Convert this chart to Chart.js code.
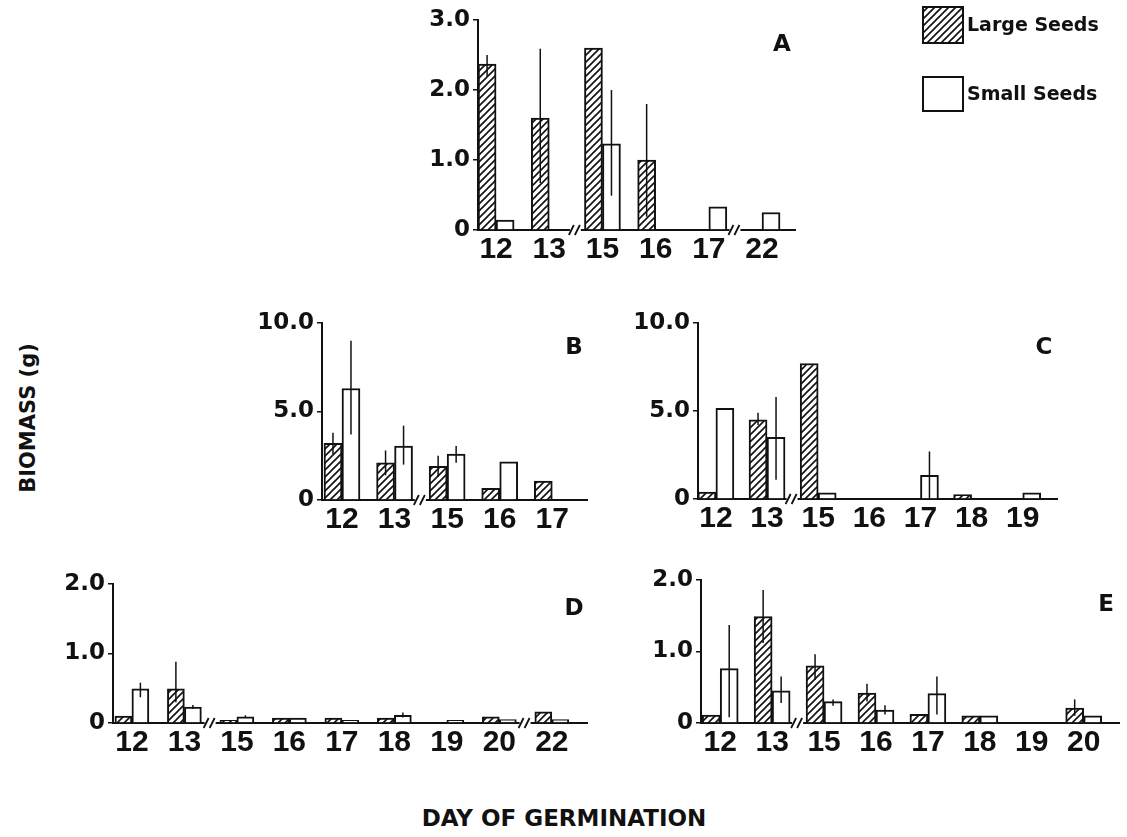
<!DOCTYPE html>
<html>
<head>
<meta charset="utf-8">
<script src="https://cdn.jsdelivr.net/npm/chart.js@4.4.0/dist/chart.umd.min.js"></script>
<style>
  body { margin: 0; background: #fff; }
  #page { position: relative; width: 1127px; height: 837px; overflow: hidden; background: #fff; }
  canvas { position: absolute; }
  .axtitle { position: absolute; font: bold 21px 'DejaVu Sans', sans-serif; color: #111; white-space: nowrap; }
</style>
</head>
<body>
<div id="page">
  <canvas id="chartA"></canvas>
  <canvas id="chartB"></canvas>
  <canvas id="chartC"></canvas>
  <canvas id="chartD"></canvas>
  <canvas id="chartE"></canvas>
  <div class="axtitle" style="left:28px;top:418px;transform:translate(-50%,-50%) rotate(-90deg);">BIOMASS (g)</div>
  <div class="axtitle" style="left:564px;top:818px;transform:translate(-50%,-50%);font-size:23px;">DAY OF GERMINATION</div>
</div>
<script>
// panel A
var daysA = ['12', '13', '15', '16', '17', '22'];
var largeA = [2.37, 1.6, 2.6, 1.0, null, null];
var smallA = [0.14, null, 1.23, null, 0.33, 0.25];
var largeErrA = [[2.2, 2.5], [0.67, 2.59], null, [0.19, 1.8], null, null];
var smallErrA = [null, null, [0.49, 2.0], null, null, null];
var yTicksA = ['0', '1.0', '2.0', '3.0'];

// panel B
var daysB = ['12', '13', '15', '16', '17'];
var largeB = [3.2, 2.1, 1.9, 0.66, 1.07];
var smallB = [6.3, 3.05, 2.6, 2.15, null];
var largeErrB = [[2.6, 3.8], [1.4, 2.8], [1.3, 2.5], null, null];
var smallErrB = [[3.7, 9.0], [2.0, 4.2], [2.1, 3.05], null, null];
var yTicksB = ['0', '5.0', '10.0'];

// panel C
var daysC = ['12', '13', '15', '16', '17', '18', '19'];
var largeC = [0.4, 4.5, 7.7, null, null, 0.25, null];
var smallC = [5.15, 3.5, 0.35, null, 1.35, null, 0.35];
var largeErrC = [null, [4.2, 4.9], null, null, null, null, null];
var smallErrC = [null, [1.1, 5.8], null, null, [0, 2.7], null, null];
var yTicksC = ['0', '5.0', '10.0'];

// panel D
var daysD = ['12', '13', '15', '16', '17', '18', '19', '20', '22'];
var largeD = [0.1, 0.49, 0.04, 0.07, 0.07, 0.07, null, 0.09, 0.16];
var smallD = [0.49, 0.23, 0.09, 0.07, 0.04, 0.11, 0.04, 0.05, 0.05];
var largeErrD = [null, [0.3, 0.88], null, null, null, null, null, null, null];
var smallErrD = [[0.37, 0.58], [0.2, 0.26], [0.07, 0.11], null, null, [0.08, 0.15], null, null, null];
var yTicksD = ['0', '1.0', '2.0'];

// panel E
var daysE = ['12', '13', '15', '16', '17', '18', '19', '20'];
var largeE = [0.11, 1.49, 0.8, 0.42, 0.12, 0.1, null, 0.21];
var smallE = [0.76, 0.45, 0.3, 0.18, 0.41, 0.1, null, 0.1];
var largeErrE = [null, [1.12, 1.86], [0.6, 0.96], [0.3, 0.55], null, null, null, [0.1, 0.33]];
var smallErrE = [[0.08, 1.37], [0.28, 0.65], [0.24, 0.33], [0.12, 0.25], [0.12, 0.65], null, null, null];
var yTicksE = ['0', '1.0', '2.0'];

var seriesNames = ['Large Seeds', 'Small Seeds'];

var INK = '#111';
var YW = 75, PT = 20, XH = 40, PB = 4;

// diagonal hatch for the large seeds
var tile = document.createElement('canvas');
tile.width = 7; tile.height = 7;
var tg = tile.getContext('2d');
tg.fillStyle = '#fff';
tg.fillRect(0, 0, 7, 7);
tg.strokeStyle = INK;
tg.lineWidth = 1.6;
tg.beginPath();
tg.moveTo(-1, 8); tg.lineTo(8, -1);
tg.moveTo(-4.5, 4.5); tg.lineTo(4.5, -4.5);
tg.moveTo(2.5, 11.5); tg.lineTo(11.5, 2.5);
tg.stroke();
var hatch = tg.createPattern(tile, 'repeat');

var errorBars = {
  id: 'errorBars',
  afterDatasetsDraw: function (chart) {
    var ctx = chart.ctx, y = chart.scales.y;
    ctx.save();
    ctx.strokeStyle = INK;
    ctx.lineWidth = 1.5;
    chart.data.datasets.forEach(function (ds, di) {
      var meta = chart.getDatasetMeta(di);
      ds.errors.forEach(function (e, i) {
        if (!e || !meta.data[i]) return;
        var bx = meta.data[i].x;
        ctx.beginPath();
        ctx.moveTo(bx, y.getPixelForValue(e[0]));
        ctx.lineTo(bx, y.getPixelForValue(e[1]));
        ctx.stroke();
      });
    });
    ctx.restore();
  }
};

// "//" marks where days are skipped, plus the panel letter
var decor = {
  id: 'decor',
  afterDraw: function (chart, args, opts) {
    var ctx = chart.ctx, x = chart.scales.x, area = chart.chartArea;
    var days = opts.days;
    ctx.save();
    for (var i = 0; i < days.length - 1; i++) {
      if (parseInt(days[i + 1]) - parseInt(days[i]) > 1) {
        var px = x.getPixelForValue(i + 0.5), py = area.bottom;
        ctx.fillStyle = '#fff';
        ctx.fillRect(px - 6, py - 3, 11, 6);
        ctx.strokeStyle = INK;
        ctx.lineWidth = 1.8;
        ctx.beginPath();
        ctx.moveTo(px - 7, py + 5); ctx.lineTo(px - 2, py - 5);
        ctx.moveTo(px - 1, py + 5); ctx.lineTo(px + 4, py - 5);
        ctx.stroke();
      }
    }
    ctx.fillStyle = INK;
    ctx.font = 'bold 23px "DejaVu Sans"';
    ctx.textAlign = 'center';
    ctx.textBaseline = 'middle';
    ctx.fillText(opts.letter, area.right - 13, area.top + 25);

    if (opts.legend) {
      // legend sits to the right of panel A
      var lx = area.right + 128, names = seriesNames;
      [[7, 36, hatch], [77, 34, '#fff']].forEach(function (b, k) {
        ctx.fillStyle = b[2];
        ctx.fillRect(lx, b[0], 40, b[1]);
        ctx.strokeStyle = INK;
        ctx.lineWidth = 2;
        ctx.strokeRect(lx, b[0], 40, b[1]);
        ctx.fillStyle = INK;
        ctx.font = 'bold 19px "DejaVu Sans"';
        ctx.textAlign = 'left';
        ctx.fillText(names[k], lx + 44, b[0] + b[1] / 2 + 1);
      });
    }
    ctx.restore();
  }
};

function makePanel(id, days, large, small, largeErr, smallErr, yTicks, g) {
  var canvas = document.getElementById(id);
  var padR = g.legend ? 1127 - g.right : 12;
  canvas.width = g.right - g.left + YW + padR;
  canvas.height = g.bottom - g.top + PT + XH + PB;
  canvas.style.left = (g.left - YW) + 'px';
  canvas.style.top = (g.top - PT) + 'px';
  var yVals = yTicks.map(parseFloat);

  var toPts = function (arr) {
    return arr.map(function (v, i) { return { x: i, y: v }; });
  };

  new Chart(canvas, {
    type: 'bar',
    data: {
      datasets: [
        {
          label: seriesNames[0],
          data: toPts(large),
          errors: largeErr,
          backgroundColor: hatch,
          borderColor: INK,
          borderWidth: 2,
          barThickness: g.bw
        },
        {
          label: seriesNames[1],
          data: toPts(small),
          errors: smallErr,
          backgroundColor: '#fff',
          borderColor: INK,
          borderWidth: 2,
          barThickness: g.bw
        }
      ]
    },
    options: {
      responsive: false,
      animation: false,
      events: [],
      layout: { padding: { top: PT, right: padR, bottom: PB, left: 0 } },
      plugins: {
        legend: { display: false },
        tooltip: { enabled: false },
        decor: { days: days, letter: g.letter, legend: g.legend }
      },
      scales: {
        x: {
          type: 'linear',
          offset: false,
          min: g.xmin,
          max: g.xmax,
          afterBuildTicks: function (s) {
            s.ticks = days.map(function (d, i) { return { value: i }; });
          },
          afterFit: function (s) { s.height = XH; },
          ticks: {
            autoSkip: false,
            maxRotation: 0,
            padding: 2,
            color: INK,
            font: { family: 'Liberation Sans', size: 30, weight: 'bold' },
            callback: function (v) { return days[v]; }
          },
          grid: { display: false, drawTicks: false },
          border: { display: true, color: INK, width: 2 }
        },
        y: {
          min: 0,
          max: yVals[yVals.length - 1],
          afterBuildTicks: function (s) {
            s.ticks = yVals.map(function (v) { return { value: v }; });
          },
          afterFit: function (s) { s.width = YW; },
          ticks: {
            padding: 3,
            color: INK,
            font: { family: 'DejaVu Sans', size: 23, weight: 'bold' },
            callback: function (v) { return yTicks[yVals.indexOf(v)]; }
          },
          grid: { drawOnChartArea: false, drawTicks: true, tickLength: 5, color: INK, lineWidth: 1.5 },
          border: { display: true, color: INK, width: 2 }
        }
      }
    },
    plugins: [errorBars, decor]
  });
}

makePanel('chartA', daysA, largeA, smallA, largeErrA, smallErrA, yTicksA,
  { left: 478, right: 795, top: 20, bottom: 230, xmin: -0.34, xmax: 5.62, bw: 18, letter: 'A', legend: true });
makePanel('chartB', daysB, largeB, smallB, largeErrB, smallErrB, yTicksB,
  { left: 322, right: 587, top: 323, bottom: 500, xmin: -0.38, xmax: 4.66, bw: 18, letter: 'B' });
makePanel('chartC', daysC, largeC, smallC, largeErrC, smallErrC, yTicksC,
  { left: 698, right: 1057, top: 323, bottom: 499, xmin: -0.35, xmax: 6.67, bw: 18, letter: 'C' });
makePanel('chartD', daysD, largeD, smallD, largeErrD, smallErrD, yTicksD,
  { left: 113, right: 587, top: 584, bottom: 723, xmin: -0.36, xmax: 8.67, bw: 17, letter: 'D' });
makePanel('chartE', daysE, largeE, smallE, largeErrE, smallErrE, yTicksE,
  { left: 701, right: 1119, top: 580, bottom: 723, xmin: -0.37, xmax: 7.68, bw: 18, letter: 'E' });
</script>
</body>
</html>
